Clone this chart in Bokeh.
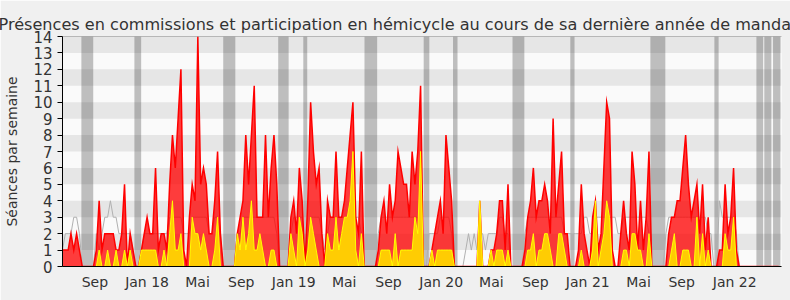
from bokeh.plotting import figure
from bokeh.models import Range1d, FixedTicker, Span, ColumnDataSource
from bokeh.embed import file_html
from bokeh.resources import INLINE

# --- data (weekly values, week index 0..254) ---
weeks = list(range(255))

hemicycle = [
    1,1,1,2,1,2,1,0,0,0,  0,0,1,4,1,2,2,2,2,1,  1,2,5,0,2,1,0,0,1,2,
    3,2,2,6,1,2,2,1,5,8,  6,9,12,1,0,3,5,4,14,5, 6,5,2,2,4,7,2,0,0,0,
    0,0,2,3,4,8,5,8,11,3, 3,3,8,3,6,8,5,0,0,0,  0,3,4,2,6,4,0,4,10,7,
    5,6,2,0,4,3,3,7,3,3,  4,6,8,10,3,2,7,0,0,0,  0,0,1,3,4,2,5,3,4,7,
    6,5,5,3,7,5,7,11,0,0, 0,1,2,3,4,2,8,6,4,0,  0,0,0,0,0,0,0,0,4,0,
    0,0,1,1,2,4,4,1,5,0,  0,0,0,0,1,3,4,6,3,4,  4,5,4,2,9,3,5,7,2,2,
    0,0,0,1,5,2,1,0,3,4,  1,2,6,10,9,1,0,0,2,4, 2,1,7,5,1,4,1,3,7,0,
    0,0,0,0,0,2,3,3,4,4,  6,8,5,3,4,5,2,5,1,3,  0,0,0,1,1,5,2,3,6,1,
    0,0,0,0,0,0,0,0,0,0,  0,0,0,0,0,
]

commission = [
    0,0,0,0,0,0,0,0,0,0,  0,0,0,1,0,0,1,0,0,1,  0,0,1,0,1,0,0,0,1,1,
    1,1,1,1,0,0,1,0,2,4,  1,1,2,0,0,0,3,2,2,1,  2,1,0,0,1,3,0,0,0,0,
    0,0,2,1,3,1,2,4,1,1,  2,1,0,0,1,1,0,0,0,0,  0,2,1,0,3,2,0,1,3,2,
    1,0,0,0,2,1,1,3,1,2,  3,3,4,7,1,0,2,0,0,0,  0,0,0,1,1,1,1,0,2,0,
    1,1,1,1,1,3,2,7,0,0,  0,1,0,1,1,1,1,1,1,0,  0,0,0,0,0,0,0,0,4,0,
    0,0,1,0,1,1,1,0,1,0,  0,0,0,0,0,1,1,2,0,1,  1,2,2,1,0,0,2,2,1,0,
    0,0,0,0,1,0,0,0,1,4,  0,1,2,4,3,0,0,0,0,1,  1,0,2,2,1,1,0,0,2,0,
    0,0,0,0,0,0,1,2,0,0,  1,1,1,0,0,3,0,2,0,1,  0,0,0,0,0,2,1,1,3,0,
    0,0,0,0,0,0,0,0,0,0,  0,0,0,0,0,
]

median = [
    1,2,2,2,3,3,2,0,0,0,  0,0,2,1,2,3,3,4,3,3,  2,2,2,2,2,1,0,0,1,2,
    2,2,2,2,2,2,2,2,3,3,  3,3,3,2,2,2,3,3,3,3,  3,3,2,2,3,3,2,0,0,0,
    0,0,2,2,3,3,3,3,3,3,  3,3,3,3,3,3,2,0,0,0,  0,2,3,3,3,3,1,2,3,3,
    3,3,2,1,2,3,3,3,3,3,  3,3,3,3,3,3,2,0,0,0,  0,0,2,3,3,3,3,3,3,3,
    3,3,3,3,3,3,3,2,0,0,  2,2,2,2,3,3,3,3,2,0,  0,0,0,1,2,1,2,1,2,2,
    1,2,2,2,2,3,3,2,2,0,  0,0,0,0,2,3,3,3,3,3,  3,3,3,3,3,3,3,3,2,2,
    2,2,2,2,2,3,3,2,2,3,  3,3,3,3,3,3,3,2,2,3,  3,3,3,3,3,3,3,3,2,0,
    0,0,0,0,2,3,3,3,3,3,  3,3,3,3,3,3,3,3,3,2,  2,0,0,4,3,3,3,3,3,2,
    0,0,0,0,0,0,0,0,0,0,  0,0,0,0,0,
]

vacances_debut = [6.7, 25.5, 57.0, 76.5, 85.4, 107.1, 128.1, 138.5, 159.6, 180.1, 208.5, 231.2, 246.1, 248.9, 252.0]
vacances_fin   = [10.9, 27.9, 61.3, 80.2, 86.8, 111.6, 130.1, 140.1, 163.8, 181.6, 213.8, 232.7, 248.5, 251.4, 254.6]

tick_weeks = [11.5, 30.0, 47.9, 63.4, 82.0, 99.9, 115.6, 134.3, 152.1, 167.7, 186.3, 204.3, 219.6, 238.4]
tick_labels = ["Sep", "Jan 18", "Mai", "Sep", "Jan 19", "Mai", "Sep", "Jan 20",
               "Mai", "Sep", "Jan 21", "Mai", "Sep", "Jan 22"]

title = "Présences en commissions et participation en hémicycle au cours de sa dernière année de mandat"
ymax = 14

# --- figure ---
p = figure(width=790, height=300, output_backend="svg", toolbar_location=None,
           x_range=Range1d(0, 255), y_range=Range1d(0, ymax),
           min_border_left=62, min_border_right=9, min_border_top=36, min_border_bottom=34,
           background_fill_color="#fafafa", border_fill_color="#f0f0f0")
p.outline_line_color = None
p.grid.visible = False

p.title.text = title
p.title.text_font = "DejaVu Sans"
p.title.text_font_size = "16.1px"
p.title.text_font_style = "normal"
p.title.text_color = "#333333"
p.title.align = "left"
p.title.offset = -64
p.title.standoff = 5

# horizontal bands
band_bottom = list(range(1, ymax, 2))
band_top = [b + 1 for b in band_bottom]
p.quad(left=0, right=255, bottom=band_bottom, top=band_top,
       fill_color="#e6e6e6", line_color=None)

# vacations
p.quad(left=vacances_debut, right=vacances_fin, bottom=0, top=ymax,
       fill_color="black", fill_alpha=0.24, line_color=None)

src = ColumnDataSource(dict(x=weeks, r=hemicycle, y=commission, m=median, z=[0]*len(weeks)))

p.line("x", "m", source=src, line_color="#b0b0b0", line_width=1)
p.varea(x="x", y1="z", y2="r", source=src, fill_color="#ff0000", fill_alpha=0.76)
p.line("x", "r", source=src, line_color="#ff0000", line_width=1.5, line_join="miter")
p.varea(x="x", y1="z", y2="y", source=src, fill_color="#ffd400", fill_alpha=0.95)
p.line("x", "y", source=src, line_color="#ffff00", line_width=1, line_join="miter")

p.add_layout(Span(location=ymax, dimension="width", line_color="black",
                  line_dash="1 1", line_width=1))

# axes
p.yaxis.ticker = FixedTicker(ticks=list(range(0, ymax + 1)))
p.yaxis.axis_label = "Séances par semaine"
p.yaxis.axis_label_text_font = "DejaVu Sans"
p.yaxis.axis_label_text_font_size = "14px"
p.yaxis.axis_label_text_font_style = "normal"
p.yaxis.axis_label_text_color = "#333333"
p.yaxis.axis_label_standoff = 10
p.yaxis.major_label_text_font = "DejaVu Sans"
p.yaxis.major_label_text_font_size = "15px"
p.yaxis.major_label_text_color = "#333333"
p.yaxis.major_tick_out = 5
p.yaxis.major_tick_in = 0
p.yaxis.minor_tick_line_color = None
p.yaxis.axis_line_color = "black"
p.yaxis.major_tick_line_color = "black"

p.xaxis.ticker = FixedTicker(ticks=tick_weeks)
p.xaxis.major_label_overrides = {t: l for t, l in zip(tick_weeks, tick_labels)}
p.xaxis.major_label_text_font = "DejaVu Sans"
p.xaxis.major_label_text_font_size = "14px"
p.xaxis.major_label_text_color = "#333333"
p.xaxis.major_tick_line_color = None
p.xaxis.minor_tick_line_color = None
p.xaxis.major_label_standoff = 1
p.xaxis.axis_line_color = "black"

open("out.html", "w").write(file_html(p, INLINE))
